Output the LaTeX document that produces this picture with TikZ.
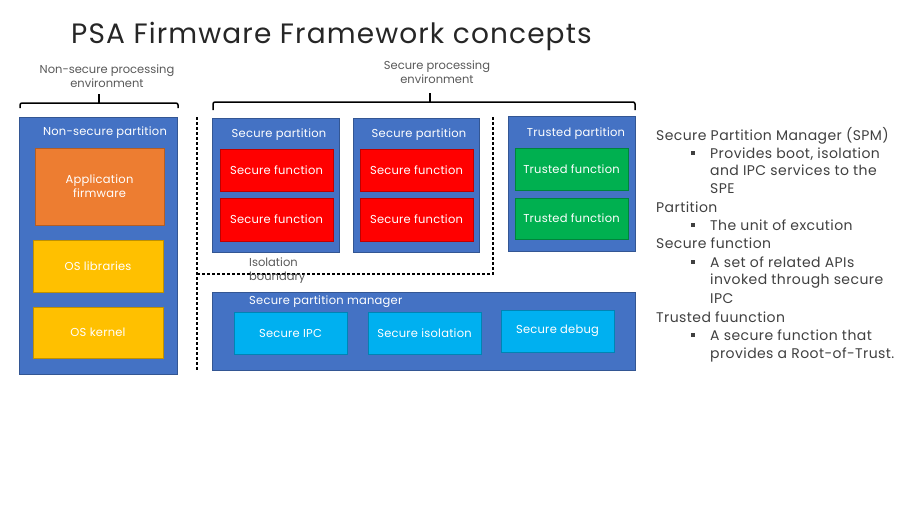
\documentclass[tikz,border=0pt]{standalone}
\usepackage{fontspec}
\setmainfont{Poppins}
\definecolor{pblue}{HTML}{4472C4}
\definecolor{porange}{HTML}{ED7D31}
\definecolor{pyellow}{HTML}{FFC000}
\definecolor{pred}{HTML}{FF0000}
\definecolor{pgreen}{HTML}{00B050}
\definecolor{pcyan}{HTML}{00B0F0}
\definecolor{ptxt}{HTML}{404040}
\definecolor{pgray}{HTML}{595959}
\tikzset{
  box/.style={draw=#1!75!black, line width=0.6pt, fill=#1, inner sep=0pt, align=center, text=white, font=\fontsize{11.5}{14}\selectfont\addfontfeatures{LetterSpace=2}},
  part/.style={box=pblue},
  lbl/.style={text=white, inner sep=0pt, font=\fontsize{11.5}{13}\selectfont\addfontfeatures{LetterSpace=2}},
  gtxt/.style={text=pgray, inner sep=0pt, align=center, font=\fontsize{11.5}{14}\selectfont},
  rtxt/.style={text=ptxt, inner sep=0pt, anchor=base west, font=\fontsize{14}{16}\selectfont\addfontfeatures{LetterSpace=3}},
  bul/.style={fill=ptxt, inner sep=0pt, minimum size=4pt},
  brace/.style={draw=black, line width=1.5pt, rounded corners=2pt},
  bound/.style={draw=black, line width=1.4pt, dash pattern=on 3pt off 2pt},
}
\begin{document}
\begin{tikzpicture}[x=1pt,y=-1pt]
\useasboundingbox (0,0) rectangle (899,504);
% title
\node[anchor=base west, inner sep=0pt, text=black!85, font=\fontsize{28}{32}\selectfont\addfontfeatures{LetterSpace=4}] (title) at (71,43) {PSA Firmware Framework concepts};
% environment labels and braces
\node[gtxt] (nspe) at (107,76) {Non-secure processing\\environment};
\node[gtxt] (spe) at (437,72) {Secure processing\\environment};
\draw[brace] (20,108) -- (20,103) -- (178,103) -- (178,108);
\draw[brace] (99,103) -- (99,94);
\draw[brace] (213,110) -- (213,102) -- (635,102) -- (635,110);
\draw[brace] (430,102) -- (430,93);
% non-secure partition
\node[part, minimum width=158pt, minimum height=257pt] (nsp) at (98,245.5) {};
\node[lbl] (nspl) at (105,133) {Non-secure partition};
\node[box=porange, minimum width=129pt, minimum height=77pt] (app) at (99.5,186.5) {Application\\firmware};
\node[box=pyellow, minimum width=130pt, minimum height=52pt] (oslib) at (98,266) {OS libraries};
\node[box=pyellow, minimum width=130pt, minimum height=51pt] (oskern) at (98,332.5) {OS kernel};
% isolation boundary
\coordinate (b1) at (197,117);
\coordinate (b2) at (197,370);
\coordinate (b3) at (197,274);
\coordinate (b4) at (493,274);
\coordinate (b5) at (493,117);
\draw[bound] (b1) -- (b2);
\draw[bound] (b3) -- (b4) -- (b5);
\node[gtxt, anchor=north west, align=left] (isol) at (249,258) {Isolation\\boundary};
% secure partitions
\node[part, minimum width=127pt, minimum height=134pt] (sp1) at (275.5,185) {};
\node[lbl] (sp1l) at (279,135) {Secure partition};
\node[box=pred, minimum width=113pt, minimum height=42pt] (sf11) at (276.5,170) {Secure function};
\node[box=pred, minimum width=113pt, minimum height=43pt] (sf12) at (276.5,219.5) {Secure function};
\node[part, minimum width=126pt, minimum height=134pt] (sp2) at (416,185) {};
\node[lbl] (sp2l) at (419,135) {Secure partition};
\node[box=pred, minimum width=113pt, minimum height=42pt] (sf21) at (416.5,170) {Secure function};
\node[box=pred, minimum width=113pt, minimum height=43pt] (sf22) at (416.5,219.5) {Secure function};
% trusted partition
\node[part, minimum width=127pt, minimum height=135pt] (tp) at (571.5,183.5) {};
\node[lbl] (tpl) at (576,134) {Trusted partition};
\node[box=pgreen, minimum width=113pt, minimum height=42pt] (tf1) at (571.5,169) {Trusted function};
\node[box=pgreen, minimum width=113pt, minimum height=41pt] (tf2) at (571.5,218.5) {Trusted function};
% SPM
\node[part, minimum width=423pt, minimum height=78pt] (spm) at (423.5,331) {};
\node[lbl, anchor=west] (spml) at (249,302) {Secure partition manager};
\node[box=pcyan, minimum width=113pt, minimum height=42pt] (ipc) at (290.5,333) {Secure IPC};
\node[box=pcyan, minimum width=113pt, minimum height=42pt] (iso) at (424.5,333) {Secure isolation};
\node[box=pcyan, minimum width=113pt, minimum height=42pt] (dbg) at (557.5,331) {Secure debug};
% right text
\node[rtxt] (t1) at (656,140) {Secure Partition Manager (SPM)};
\node[bul] (u1) at (693,153) {};
\node[rtxt] (t2) at (710,158) {Provides boot, isolation};
\node[rtxt] (t3) at (710,175.5) {and IPC services to the};
\node[rtxt] (t4) at (710,193) {SPE};
\node[rtxt] (t5) at (656,212) {Partition};
\node[bul] (u2) at (693,225) {};
\node[rtxt] (t6) at (710,230) {The unit of excution};
\node[rtxt] (t7) at (656,248) {Secure function};
\node[bul] (u3) at (693,262) {};
\node[rtxt] (t8) at (710,267) {A set of related APIs};
\node[rtxt] (t9) at (710,284.5) {invoked through secure};
\node[rtxt] (t10) at (710,303) {IPC};
\node[rtxt] (t11) at (656,322) {Trusted fuunction};
\node[bul] (u4) at (693,335) {};
\node[rtxt] (t12) at (710,340) {A secure function that};
\node[rtxt] (t13) at (710,358) {provides a Root-of-Trust.};
\end{tikzpicture}
\end{document}
